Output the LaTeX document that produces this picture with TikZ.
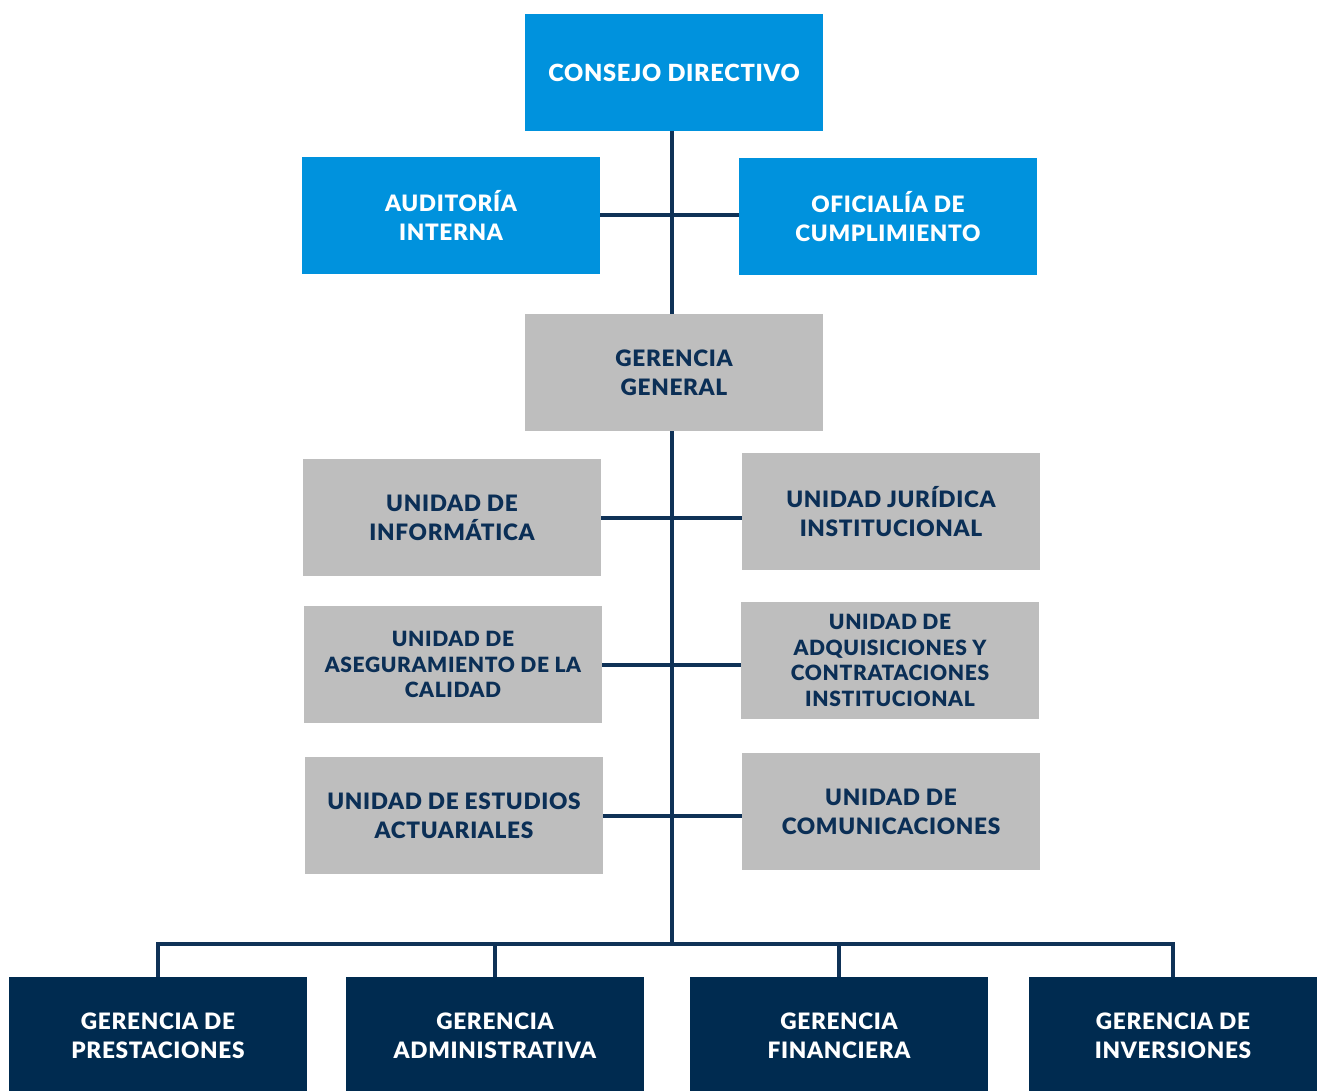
\documentclass[tikz,border=0pt]{standalone}
\usepackage{fontspec}
\setmainfont{Lato}[BoldFont={* Black},BoldFeatures={LetterSpace=3}]
\definecolor{cblue}{HTML}{0092DD}
\definecolor{cgray}{HTML}{BEBEBE}
\definecolor{cnavy}{HTML}{002B50}
\definecolor{cline}{HTML}{0F3257}
\definecolor{ctext}{HTML}{0B2F56}
\begin{document}
\begin{tikzpicture}[x=1pt,y=-1pt,
  box/.style={anchor=north west,minimum width=298pt,minimum height=117pt,inner sep=0pt,outer sep=0pt,align=center,font=\fontsize{22.6}{28.8}\selectfont\bfseries},
  small/.style={font=\fontsize{21}{25.8}\selectfont\bfseries},
  bluebox/.style={box,fill=cblue,text=white},
  graybox/.style={box,fill=cgray,text=ctext},
  navybox/.style={box,fill=cnavy,text=white},
  conn/.style={draw=cline,line width=4pt}]
\useasboundingbox (0,0) rectangle (1317,1091);
\coordinate (bus) at (672,944);
\node[bluebox,font=\fontsize{23.6}{28.8}\selectfont\bfseries,text depth=-3pt] (cd) at (525,14) {CONSEJO DIRECTIVO};
\node[bluebox] (aud) at (302,157) {AUDITORÍA\\INTERNA};
\node[bluebox] (ofi) at (739,158) {OFICIALÍA DE\\CUMPLIMIENTO};
\node[graybox] (gg) at (525,314) {GERENCIA\\GENERAL};
\node[graybox] (inf) at (303,459) {UNIDAD DE\\INFORMÁTICA};
\node[graybox] (jur) at (742,453) {UNIDAD JURÍDICA\\INSTITUCIONAL};
\node[graybox,small] (ase) at (304,606) {UNIDAD DE\\ASEGURAMIENTO DE LA\\CALIDAD};
\node[graybox,small] (adq) at (741,602) {UNIDAD DE\\ADQUISICIONES Y\\CONTRATACIONES\\INSTITUCIONAL};
\node[graybox] (act) at (305,757) {UNIDAD DE ESTUDIOS\\ACTUARIALES};
\node[graybox] (com) at (742,753) {UNIDAD DE\\COMUNICACIONES};
\node[navybox] (g1) at (9,977) {GERENCIA DE\\PRESTACIONES};
\node[navybox] (g2) at (346,977) {GERENCIA\\ADMINISTRATIVA};
\node[navybox] (g3) at (690,977) {GERENCIA\\FINANCIERA};
\node[navybox,minimum width=288pt] (g4) at (1029,977) {GERENCIA DE\\INVERSIONES};
\draw[conn] (cd.south -| bus) -- (gg.north -| bus);
\draw[conn] (gg.south -| bus) -- (bus);
\draw[conn] (aud.east) -- (aud.east -| ofi.west);
\draw[conn] (inf.east) -- (inf.east -| jur.west);
\draw[conn] (ase.east) -- (ase.east -| adq.west);
\draw[conn] (act.east) -- (act.east -| com.west);
\draw[conn] (g1.north) |- (bus) -| (g4.north);
\draw[conn] (g2.north) -- (g2.north |- bus);
\draw[conn] (g3.north) -- (g3.north |- bus);
\end{tikzpicture}
\end{document}
